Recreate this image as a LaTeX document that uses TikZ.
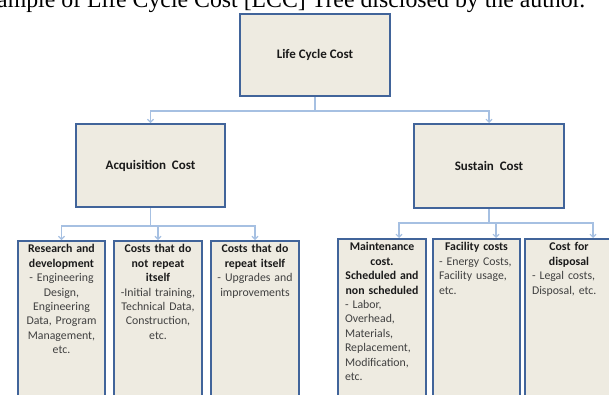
\documentclass[tikz,border=0pt]{standalone}
\usepackage{fontspec}
\setmainfont{Carlito}
\newfontfamily\titlefont{Liberation Serif}
\usetikzlibrary{arrows.meta,calc}
\definecolor{boxfill}{HTML}{EEEBE1}
\definecolor{boxline}{HTML}{41649A}
\definecolor{connline}{HTML}{A6C0E2}
\definecolor{bodytext}{HTML}{404040}
\definecolor{headtext}{HTML}{1A1A1A}
\tikzset{
  costbox/.style={draw=boxline, line width=2pt, fill=boxfill, rectangle, anchor=north west, inner sep=0pt},
  bigtext/.style={font=\fontsize{13}{15.6}\selectfont\bfseries, text=headtext, inner sep=0pt},
  smalltext/.style={font=\fontsize{11.8}{14.4}\selectfont, text=bodytext, inner sep=0pt, anchor=north},
  conn/.style={draw=connline, line width=1.3pt, -{Straight Barb[length=3pt,width=6pt,line width=1.1pt]}}
}
\newcommand{\hdr}[1]{{\color{headtext}\bfseries #1}}
\newcommand{\ctr}[1]{\makebox[\linewidth][c]{\color{headtext}\bfseries #1}}
\begin{document}
\begin{tikzpicture}[x=1pt,y=-1pt]
\useasboundingbox (0,0) rectangle (609,394);
\clip (0,0) rectangle (609,394);
% title (cut at top)
\node[anchor=base west, inner sep=0pt, font=\titlefont\fontsize{23.8}{28}\selectfont] (title) at (-3,7.8) {ample of Life Cycle Cost [LCC] Tree disclosed by the author.};
% main boxes
\node[costbox, minimum width=150pt, minimum height=82pt] (lcc) at (239,13) {};
\node[costbox, minimum width=149pt, minimum height=83pt] (acq) at (75,123) {};
\node[costbox, minimum width=150pt, minimum height=84pt] (sus) at (413,123) {};
\node[bigtext] (lcct) at (lcc.center) {Life Cycle Cost};
\node[bigtext] (acqt) at (acq.center) {Acquisition\ \ Cost};
\node[bigtext] (sust) at (sus.center) {Sustain\ \ Cost};
% leaf boxes
\node[costbox, minimum width=87pt, minimum height=170pt] (b1) at (17,240) {};
\node[costbox, minimum width=88pt, minimum height=170pt] (b2) at (113,240) {};
\node[costbox, minimum width=88pt, minimum height=170pt] (b3) at (210,240) {};
\node[costbox, minimum width=88pt, minimum height=170pt] (b4) at (337,238) {};
\node[costbox, minimum width=87pt, minimum height=170pt] (b5) at (432,238) {};
\node[costbox, minimum width=88pt, minimum height=170pt] (b6) at (524,238) {};
% leaf texts
\node[smalltext, text width=86pt, align=center] (t1) at ($(b1.north)+(0,4.5)$)
  {\hdr{Research and\\development}\\- Engineering\\Design,\\Engineering\\Data, Program\\Management,\\etc.};
\node[smalltext, text width=86pt, align=center] (t2) at ($(b2.north)+(0,4.5)$)
  {\hdr{Costs that do\\not repeat\\itself}\\-Initial training,\\Technical Data,\\Construction,\\etc.};
\node[smalltext, text width=86pt, align=center] (t3) at ($(b3.north)+(0,4.5)$)
  {\hdr{Costs that do\\repeat itself}\\- Upgrades and\\improvements};
\node[smalltext, text width=74pt] (t4) at ($(b4.north)+(0,4.5)$)
  {\raggedright\ctr{Maintenance}\\\ctr{cost.}\\\ctr{Scheduled and}\\\ctr{non scheduled}\\- Labor,\\Overhead,\\Materials,\\Replacement,\\Modification,\\etc.\par};
\node[smalltext, text width=75pt] (t5) at ($(b5.north)+(0,4.5)$)
  {\raggedright\ctr{Facility costs}\\- Energy Costs,\\Facility usage,\\etc.\par};
\node[smalltext, text width=74pt] (t6) at ($(b6.north)+(0,4.5)$)
  {\raggedright\ctr{Cost for}\\\ctr{disposal}\\- Legal costs,\\Disposal, etc.\par};
% connector targets
\coordinate (e4) at ($(b4.north)+(17,0)$);
\coordinate (e5) at ($(b5.north)+(19.5,0)$);
\coordinate (e6) at ($(b6.north)+(24,0)$);
% connectors
\draw[conn] (lcc.south) -- ++(0,14) -| (acq.north);
\draw[conn] (lcc.south) -- ++(0,14) -| (sus.north);
\draw[conn] (acq.south) -- ++(0,18) -| (b1.north);
\draw[conn] (acq.south) -- ++(0,18) -| (b2.north);
\draw[conn] (acq.south) -- ++(0,18) -| (b3.north);
\draw[conn] (sus.south) -- ++(0,14) -| (e4);
\draw[conn] (sus.south) -- ++(0,14) -| (e5);
\draw[conn] (sus.south) -- ++(0,14) -| (e6);
\end{tikzpicture}
\end{document}
